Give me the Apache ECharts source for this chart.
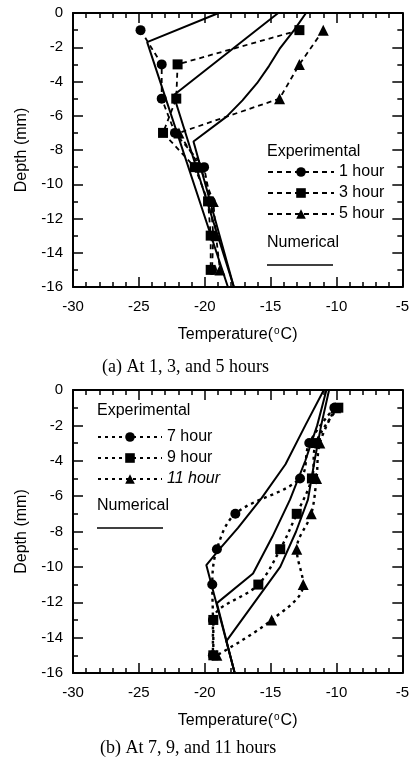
<!DOCTYPE html>
<html>
<head>
<meta charset="utf-8">
<script src="https://cdn.jsdelivr.net/npm/echarts@6/dist/echarts.min.js"></script>
<style>
  html, body { margin: 0; padding: 0; background: #fff; }
  .layer { position: absolute; left: 0; top: 0; width: 412px; height: 769px; }
</style>
</head>
<body>
<div id="axes" class="layer"></div>
<div id="chart" class="layer"></div>
<script>
// 实验测点深度（mm），两幅图共用
const depths = [-1, -3, -5, -7, -9, -11, -13, -15];

// (a) 实验值
const exp1h = [-24.9, -23.3, -23.3, -22.3, -20.1, -19.6, -19.4, -19.5];
const exp3h = [-12.9, -22.1, -22.2, -23.2, -20.8, -19.8, -19.6, -19.6];
const exp5h = [-11.1, -12.9, -14.4, -22.0, -20.4, -19.4, -19.2, -18.9];

// (a) 数值解
const num1hT = [-19.0, -24.4, -18.3];
const num1hD = [0, -1.7, -16];
const num3hT = [-14.5, -22.4, -17.85];
const num3hD = [0, -4.8, -16];
const num5hT = [-12.4, -13.3, -14.4, -15.2, -16.1, -17.2, -18.4, -20.9, -17.85];
const num5hD = [0, -1, -2.1, -3.1, -4.1, -5.1, -6.05, -7.5, -16];

// (b) 实验值
const exp7h = [-10.2, -12.1, -12.8, -17.7, -19.1, -19.45, -19.4, -19.4];
const exp9h = [-9.9, -11.6, -11.9, -13.05, -14.3, -15.96, -19.37, -19.37];
const exp11h = [-10.1, -11.3, -11.55, -11.95, -13.05, -12.56, -14.95, -19.1];

// (b) 数值解
const num7hT = [-11.0, -12.4, -13.9, -15.7, -17.5, -18.9, -19.9, -17.75];
const num7hD = [0, -2, -4.2, -6.1, -7.8, -9.0, -9.9, -16];
const num9hT = [-10.8, -11.5, -12.4, -13.56, -14.9, -16.36, -19.1, -17.75];
const num9hD = [0, -2, -4, -6.2, -8.3, -10.37, -12.05, -16];
const num11hT = [-10.6, -11.2, -11.7, -12.2, -13.1, -14.3, -18.38, -17.75];
const num11hD = [0, -2, -4, -6.2, -8, -10, -14.2, -16];

// 轴刻度
const xTicks = { min: -30, max: -5, interval: 5 };
const yTicks = { min: -16, max: 0, interval: 2 };

const SANS = '"Liberation Sans", Arial, Helvetica, sans-serif';
const SERIF = '"Liberation Serif", "Times New Roman", serif';

const GRIDS = [
  { left: 73, top: 13, width: 331, height: 274 },
  { left: 73, top: 390, width: 330, height: 283 }
];

const pairs = (xs, ys) => xs.map((x, i) => [x, ys[i]]);

// ---- 底层：只画坐标轴（边框、内侧刻度、标签、轴名） ----
// 图例等组件和坐标轴放在同一实例里时 v6 不画刻度，所以拆成两层
const axisOf = (dim, gi, mirror) => {
  const isX = dim === 'x';
  const t = isX ? xTicks : yTicks;
  return {
    type: 'value', gridIndex: gi,
    position: isX ? (mirror ? 'top' : 'bottom') : (mirror ? 'right' : 'left'),
    min: t.min, max: t.max, interval: t.interval,
    axisLine: { show: true, onZero: false, lineStyle: { color: '#000', width: 2 } },
    axisTick: { show: true, inside: true, length: 10, lineStyle: { color: '#000', width: 1.5 } },
    minorTick: { show: true, splitNumber: isX ? 5 : 2, length: 5, lineStyle: { color: '#000', width: 1.5 } },
    splitLine: { show: false },
    axisLabel: { show: !mirror, fontSize: 15, color: '#000', fontFamily: SANS, margin: isX ? 12 : 10 },
    name: mirror ? '' : (isX ? 'Temperature({sup|o}C)' : 'Depth (mm)'),
    nameLocation: 'middle', nameGap: isX ? 39 : 43,
    nameTextStyle: {
      color: '#000', fontSize: 16, fontFamily: SANS,
      rich: { sup: { fontSize: 10, fontFamily: SANS, color: '#000', padding: [0, 1, 8, 1] } }
    }
  };
};

const axesChart = echarts.init(document.getElementById('axes'));
axesChart.setOption({
  animation: false,
  grid: GRIDS.map(g => Object.assign({}, g)),
  xAxis: [axisOf('x', 0, false), axisOf('x', 0, true), axisOf('x', 1, false), axisOf('x', 1, true)],
  yAxis: [axisOf('y', 0, false), axisOf('y', 0, true), axisOf('y', 1, false), axisOf('y', 1, true)],
  series: [
    { type: 'line', xAxisIndex: 0, yAxisIndex: 0, data: [], silent: true },
    { type: 'line', xAxisIndex: 2, yAxisIndex: 2, data: [], silent: true }
  ]
});

// ---- 上层：数据、图例、图注（透明背景，坐标轴隐藏但比例一致） ----
const hiddenX = gi => ({ type: 'value', gridIndex: gi, show: false,
  min: xTicks.min, max: xTicks.max, interval: xTicks.interval });
const hiddenY = gi => ({ type: 'value', gridIndex: gi, show: false,
  min: yTicks.min, max: yTicks.max, interval: yTicks.interval });

// 实验曲线：虚线 + 黑色实心标记
const expSeries = (name, temps, symbol, gi, bottom) => ({
  name, type: 'line', xAxisIndex: gi, yAxisIndex: gi,
  data: pairs(temps, depths),
  symbol, symbolSize: symbol === 'triangle' ? 11 : 10,
  smooth: bottom ? 0.35 : false,
  itemStyle: { color: '#000' },
  lineStyle: { color: '#000', width: bottom ? 2.4 : 1.8, type: bottom ? [3, 4] : [5, 4] },
  z: 3
});

// 数值解：实线
const numSeries = (temps, ds, gi) => ({
  name: 'Numerical', type: 'line', xAxisIndex: gi, yAxisIndex: gi,
  data: pairs(temps, ds),
  symbol: 'none',
  lineStyle: { color: '#000', width: 2, type: 'solid' },
  z: 2
});

const legendBase = () => ({
  orient: 'vertical', padding: 0, itemHeight: 12, itemGap: 5,
  textStyle: { color: '#000', fontSize: 16, fontFamily: SANS,
    rich: { it: { fontStyle: 'italic', fontSize: 16, fontFamily: SANS, color: '#000' } } },
  selectedMode: false
});

const text = (x, y, str, size, family) => ({
  type: 'text', left: x, top: y,
  style: { text: str, fill: '#000', font: size + 'px ' + family }
});

const seg = (x1, y1, x2, y2) => ({
  type: 'line', shape: { x1, y1, x2, y2 }, style: { stroke: '#000', lineWidth: 1.5 }
});

const chart = echarts.init(document.getElementById('chart'));
chart.setOption({
  animation: false,
  backgroundColor: 'transparent',
  grid: GRIDS.map(g => Object.assign({}, g)),
  xAxis: [hiddenX(0), hiddenX(1)],
  yAxis: [hiddenY(0), hiddenY(1)],
  legend: [
    Object.assign(legendBase(), { left: 267, top: 164, itemWidth: 66,
      data: ['1 hour', '3 hour', '5 hour'] }),
    Object.assign(legendBase(), { left: 97, top: 429, itemWidth: 64,
      data: ['7 hour', '9 hour', '11 hour'],
      formatter: n => n === '11 hour' ? '{it|' + n + '}' : n })
  ],
  graphic: [
    text(267, 144, 'Experimental', 16, SANS),
    text(267, 235, 'Numerical', 16, SANS),
    seg(267, 265, 333, 265),
    text(97, 403, 'Experimental', 16, SANS),
    text(97, 498, 'Numerical', 16, SANS),
    seg(97, 528, 163, 528),
    text(102, 358, '(a) At 1, 3, and 5 hours', 18, SERIF),
    text(100, 739, '(b) At 7, 9, and 11 hours', 18, SERIF)
  ],
  series: [
    numSeries(num1hT, num1hD, 0),
    numSeries(num3hT, num3hD, 0),
    numSeries(num5hT, num5hD, 0),
    expSeries('1 hour', exp1h, 'circle', 0, false),
    expSeries('3 hour', exp3h, 'rect', 0, false),
    expSeries('5 hour', exp5h, 'triangle', 0, false),
    numSeries(num7hT, num7hD, 1),
    numSeries(num9hT, num9hD, 1),
    numSeries(num11hT, num11hD, 1),
    expSeries('7 hour', exp7h, 'circle', 1, true),
    expSeries('9 hour', exp9h, 'rect', 1, true),
    expSeries('11 hour', exp11h, 'triangle', 1, true)
  ]
});
</script>
</body>
</html>
